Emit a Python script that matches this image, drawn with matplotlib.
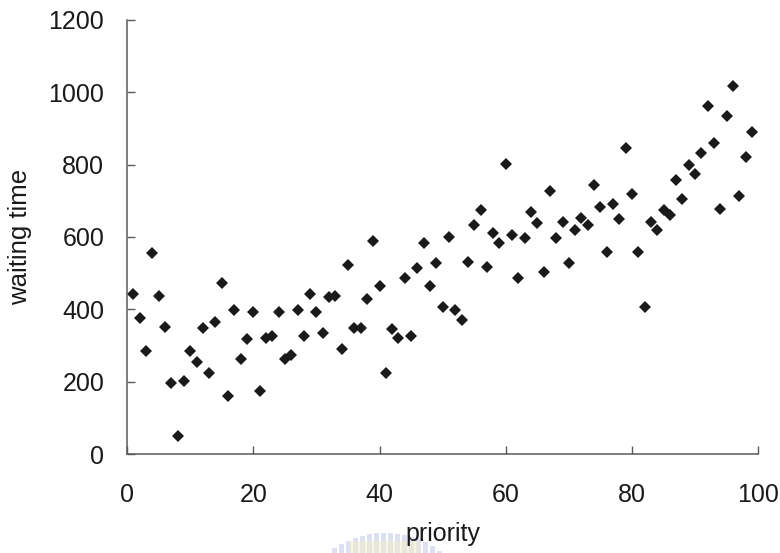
import matplotlib
matplotlib.use("Agg")
import matplotlib.pyplot as plt
import numpy as np
from matplotlib.patches import Rectangle

plt.rcParams['font.family'] = ['Liberation Sans', 'DejaVu Sans']

# priority 1..99 and the waiting time
priority = list(range(1, 100))
waiting = [441, 375, 286, 557, 438, 352, 197, 51, 202, 286,
           254, 347, 223, 366, 473, 161, 397, 264, 317, 393,
           175, 322, 325, 393, 264, 274, 397, 326, 442, 393,
           335, 434, 438, 290, 523, 348, 348, 428, 589, 464,
           223, 345, 322, 487, 326, 513, 584, 464, 527, 406,
           599, 397, 370, 531, 633, 674, 518, 612, 584, 803,
           606, 487, 598, 669, 638, 504, 727, 598, 642, 527,
           619, 652, 633, 745, 682, 558, 691, 651, 847, 718,
           558, 406, 642, 619, 675, 661, 757, 704, 799, 775,
           832, 962, 859, 677, 935, 1016, 713, 820, 891]

xticks = [0, 20, 40, 60, 80, 100]
yticks = [0, 200, 400, 600, 800, 1000, 1200]

W, H = 780, 553
fig = plt.figure(figsize=(W / 100, H / 100), dpi=100)

# faint scanned watermark at the bottom (top of a round logo)
cx, cy, r = 385, 625, 92
for bx in np.arange(325, 452, 7):
    dy = np.sqrt(max(r**2 - (bx + 2.5 - cx)**2, 0))
    top = cy - dy
    if top >= H:
        continue
    fig.add_artist(Rectangle((bx / W, 0), 5 / W, (H - top) / H,
                             transform=fig.transFigure, color='#8f9bd6',
                             alpha=0.3, lw=0, zorder=0))
fig.add_artist(Rectangle((350 / W, 0), 70 / W, 12 / H, transform=fig.transFigure,
                         color='#f3efc8', alpha=0.5, lw=0, zorder=0))

ax = fig.add_axes([0.163, 0.179, 0.809, 0.785])
ax.patch.set_alpha(0)

ax.plot(priority, waiting, linestyle='none', marker='D', markersize=6,
        color='#1a1a1a', markeredgewidth=0)

ax.set_xlim(0, 100)
ax.set_ylim(0, 1200)
ax.set_xticks(xticks)
ax.set_yticks(yticks)

for s in ['top', 'right']:
    ax.spines[s].set_visible(False)
for s in ['left', 'bottom']:
    ax.spines[s].set_color('#5a5a5a')
    ax.spines[s].set_linewidth(1.1)

ax.tick_params(axis='both', direction='in', length=5.5, width=1.0,
               color='#5a5a5a', labelsize=18, labelcolor='#1a1a1a')
ax.tick_params(axis='x', pad=21)
ax.tick_params(axis='y', pad=16.5)

ax.set_xlabel('priority', fontsize=18, color='#1a1a1a', labelpad=11)
ax.set_ylabel('waiting time', fontsize=18.5, color='#1a1a1a', labelpad=12)

fig.savefig('out.png', dpi=100)
